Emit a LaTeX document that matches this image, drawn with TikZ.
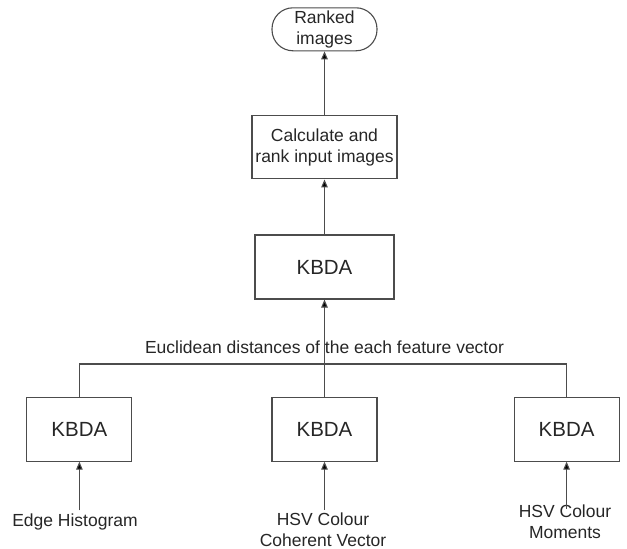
\documentclass[tikz,border=0pt]{standalone}
\usepackage{fontspec}
\setmainfont{Liberation Sans}
\usepackage{tikz}
\usetikzlibrary{arrows.meta,positioning,calc}
\tikzset{
  cbirbox/.style={
    draw=black!70,
    line width=1.1pt,
    align=center,
    inner sep=0pt,
    text=black!85,
    font=\fontsize{17.5}{21}\selectfont
  },
  kbdabox/.style={
    cbirbox,
    minimum width=105pt,
    minimum height=64pt,
    font=\fontsize{20.5}{24}\selectfont
  },
  cbirlabel/.style={
    align=center,
    text=black!85,
    font=\fontsize{17.5}{21}\selectfont
  },
  cbirline/.style={draw=black!70,line width=1.1pt},
  cbirarrow/.style={cbirline,-{Triangle[length=8pt,width=6.5pt,fill=black]}}
}
\begin{document}
\begin{tikzpicture}[x=1pt,y=1pt]
      \useasboundingbox (0,0) rectangle (627,-549);
      \node[kbdabox,minimum width=139pt] (kbda) at (324.5,-267) {KBDA};
      \node[cbirbox,minimum width=145pt,minimum height=63pt,above=55pt of kbda] (calc)
        {Calculate and\\rank input images};
      \node[cbirbox,minimum width=105pt,minimum height=43pt,rounded corners=21pt,
        above=64pt of calc] (ranked) {Ranked\\images};
      \node[kbdabox,below=97pt of kbda] (hsvkbda) {KBDA};
      \node[kbdabox,left=139pt of hsvkbda] (edgekbda) {KBDA};
      \node[kbdabox,right=136pt of hsvkbda] (momkbda) {KBDA};
      \node[cbirlabel] (euclid) at (324.5,-347)
        {Euclidean distances of the each feature vector};
      \coordinate (bus) at (0,-364);
      \node[cbirlabel] (edge) at (75,-522) {Edge Histogram};
      \node[cbirlabel] (hsvccv) at (323,-530) {HSV Colour\\Coherent Vector};
      \node[cbirlabel] (moments) at (565,-522) {HSV Colour\\Moments};
      \draw[cbirarrow] (calc) -- (ranked);
      \draw[cbirarrow] (kbda) -- (calc);
      \draw[cbirarrow] (hsvkbda) -- (kbda);
      \draw[cbirline] (edgekbda.north) -- (edgekbda.north |- bus)
        -- (momkbda.north |- bus) -- (momkbda.north);
      \draw[cbirarrow] (edgekbda.south |- edge.north) -- (edgekbda.south);
      \draw[cbirarrow] (hsvkbda.south |- hsvccv.north) -- (hsvkbda.south);
      \draw[cbirarrow] ([yshift=-7pt]momkbda.south |- moments.north) -- (momkbda.south);
    \end{tikzpicture}
\end{document}
